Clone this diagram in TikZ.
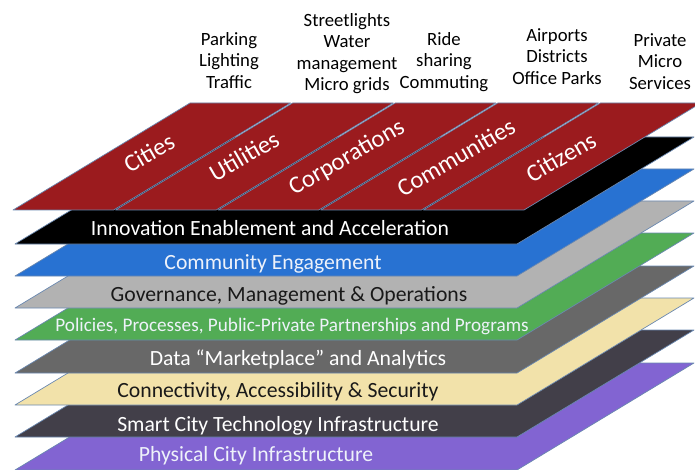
\documentclass[tikz,border=0pt]{standalone}
\usepackage{fontspec}
\setmainfont{Carlito}
\definecolor{edgeblue}{HTML}{6A88B0}
\definecolor{sectred}{HTML}{9B1B1E}
\definecolor{engblue}{HTML}{2872D2}
\definecolor{govgray}{HTML}{B2B2B2}
\definecolor{polgreen}{HTML}{52AC55}
\definecolor{datagray}{HTML}{686868}
\definecolor{conyellow}{HTML}{F2E2AA}
\definecolor{techslate}{HTML}{423F49}
\definecolor{physpurple}{HTML}{8264D2}
\definecolor{paletext}{HTML}{EEF2FA}
\newcommand\drawlayer[2]{%
  \path[layerbox, fill=#2] (15,#1) -- (517,#1) -- (694,#1-107) -- (192,#1-107) -- cycle;}
\begin{document}
\begin{tikzpicture}[x=1pt, y=-1pt,
  layerbox/.style={draw=edgeblue, line width=0.7pt, line join=round},
  sectbox/.style={draw=edgeblue, line width=0.7pt, line join=round, fill=sectred},
  bandtext/.style={anchor=base, inner sep=0pt, font=\fontsize{21.7}{25}\selectfont},
  secttext/.style={rotate=30, inner sep=0pt, text=white, font=\fontsize{24.5}{28}\selectfont},
  usetext/.style={anchor=north, inner sep=0pt, align=center, font=\fontsize{18.7}{21.5}\selectfont}]
\useasboundingbox (0,0) rectangle (695,470);
\clip (0,0) rectangle (695,470);

% stacked layers, lowest first so that each upper layer covers the one beneath
\drawlayer{470}{physpurple}
\drawlayer{437}{techslate}
\drawlayer{405}{conyellow}
\drawlayer{373}{datagray}
\drawlayer{340}{polgreen}
\drawlayer{308}{govgray}
\drawlayer{276}{engblue}
\drawlayer{244}{black}

% top layer split into five stakeholder sections
\foreach \i in {0,...,4} {
  \path[sectbox] ({12+102.6*\i+1},210) -- ({12+102.6*(\i+1)-1},210)
    -- ({189+102.6*(\i+1)-1},103) -- ({189+102.6*\i+1},103) -- cycle;
}

% stakeholder labels
\node[secttext] (cities) at (149,153) {Cities};
\node[secttext] (utilities) at (244,156) {Utilities};
\node[secttext] (corporations) at (347,158) {Corporations};
\node[secttext] (communities) at (456,157) {Communities};
\node[secttext] (citizens) at (561,157) {Citizens};

% use cases above each section
\node[usetext] (ucities) at (229,32) {Parking\\Lighting\\Traffic};
\node[usetext] (uutil) at (347,13) {Streetlights\\Water\\management\\Micro grids};
\node[usetext] (ucorp) at (444,32) {Ride\\sharing\\Commuting};
\node[usetext] (ucomm) at (557,28) {Airports\\Districts\\Office Parks};
\node[usetext] (ucit) at (660,33) {Private\\Micro\\Services};

% layer titles
\node[bandtext, text=white] (innov) at (270,236) {Innovation Enablement and Acceleration};
\node[bandtext, text=paletext] (engage) at (273,269) {Community Engagement};
\node[bandtext, text=black!90] (gov) at (289,301) {Governance, Management \& Operations};
\node[bandtext, text=paletext, font=\fontsize{19.2}{22}\selectfont] (policy) at (292,331) {Policies, Processes, Public-Private Partnerships and Programs};
\node[bandtext, text=white] (data) at (298,365) {Data “Marketplace” and Analytics};
\node[bandtext, text=black!90] (conn) at (278,397) {Connectivity, Accessibility \& Security};
\node[bandtext, text=white] (tech) at (278,431) {Smart City Technology Infrastructure};
\node[bandtext, text=paletext] (phys) at (256,461) {Physical City Infrastructure};
\end{tikzpicture}
\end{document}
